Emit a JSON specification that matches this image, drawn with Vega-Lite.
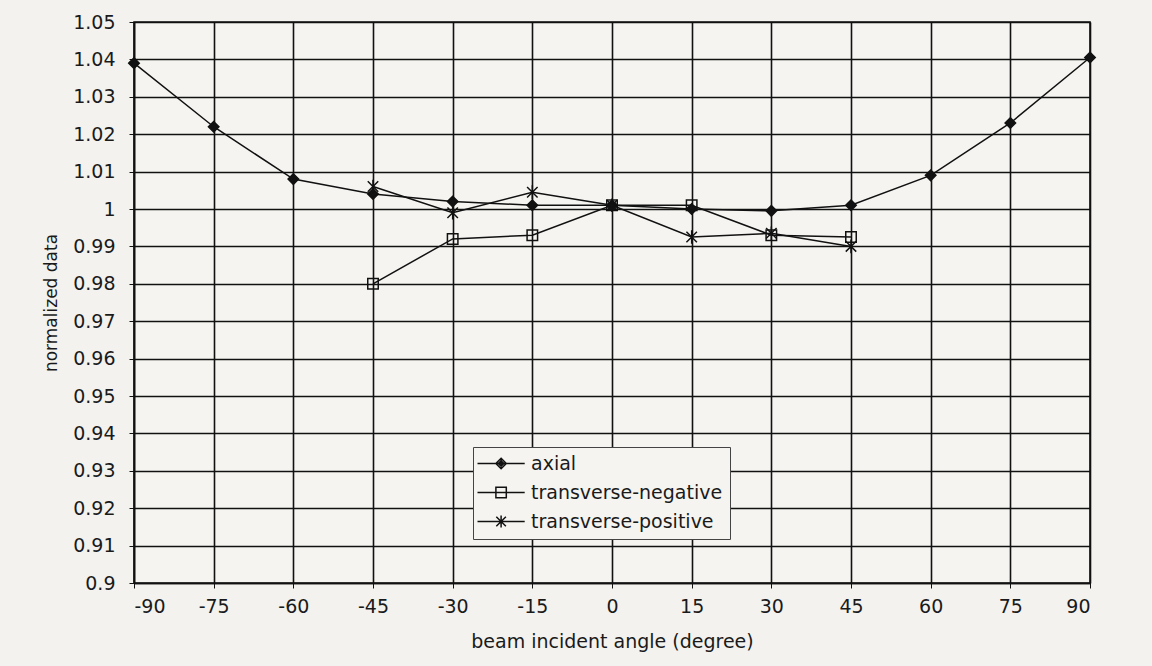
{
  "$schema": "https://vega.github.io/schema/vega-lite/v6.json",
  "width": 956,
  "height": 561,
  "autosize": "none",
  "padding": {"left": 134, "top": 22, "right": 62, "bottom": 83},
  "background": "#f3f2ef",
  "config": {
    "font": "DejaVu Sans",
    "view": {"stroke": "#111", "strokeWidth": 1.6, "fill": "#f5f4f1"},
    "axis": {
      "domainColor": "#111",
      "domainWidth": 1.6,
      "gridColor": "#111",
      "gridWidth": 1.6,
      "gridOpacity": 1,
      "tickColor": "#111",
      "tickSize": 5,
      "labelFont": "DejaVu Sans",
      "labelFontSize": 19,
      "labelColor": "#1a1a1a",
      "titleFont": "DejaVu Sans",
      "titleFontWeight": "normal",
      "titleColor": "#1a1a1a"
    }
  },
  "data": {
    "values": [
      {"angle": -90, "value": 1.039, "series": "axial"},
      {"angle": -75, "value": 1.022, "series": "axial"},
      {"angle": -60, "value": 1.008, "series": "axial"},
      {"angle": -45, "value": 1.004, "series": "axial"},
      {"angle": -30, "value": 1.002, "series": "axial"},
      {"angle": -15, "value": 1.001, "series": "axial"},
      {"angle": 0, "value": 1.001, "series": "axial"},
      {"angle": 15, "value": 1.0, "series": "axial"},
      {"angle": 30, "value": 0.9995, "series": "axial"},
      {"angle": 45, "value": 1.001, "series": "axial"},
      {"angle": 60, "value": 1.009, "series": "axial"},
      {"angle": 75, "value": 1.023, "series": "axial"},
      {"angle": 90, "value": 1.0405, "series": "axial"},
      {"angle": -45, "value": 0.98, "series": "transverse-negative"},
      {"angle": -30, "value": 0.992, "series": "transverse-negative"},
      {"angle": -15, "value": 0.993, "series": "transverse-negative"},
      {"angle": 0, "value": 1.001, "series": "transverse-negative"},
      {"angle": 15, "value": 1.001, "series": "transverse-negative"},
      {"angle": 30, "value": 0.993, "series": "transverse-negative"},
      {"angle": 45, "value": 0.9925, "series": "transverse-negative"},
      {"angle": -45, "value": 1.006, "series": "transverse-positive"},
      {"angle": -30, "value": 0.999, "series": "transverse-positive"},
      {"angle": -15, "value": 1.0045, "series": "transverse-positive"},
      {"angle": 0, "value": 1.001, "series": "transverse-positive"},
      {"angle": 15, "value": 0.9925, "series": "transverse-positive"},
      {"angle": 30, "value": 0.9935, "series": "transverse-positive"},
      {"angle": 45, "value": 0.99, "series": "transverse-positive"}
    ]
  },
  "encoding": {
    "x": {
      "field": "angle",
      "type": "quantitative",
      "scale": {"domain": [-90, 90], "nice": false, "zero": false},
      "axis": {
        "values": [-90, -75, -60, -45, -30, -15, 0, 15, 30, 45, 60, 75, 90],
        "labelExpr": "'' + datum.value",
        "title": "beam incident angle (degree)",
        "titleFontSize": 19,
        "labelPadding": 9,
        "titlePadding": 16
      }
    },
    "y": {
      "field": "value",
      "type": "quantitative",
      "scale": {"domain": [0.9, 1.05], "nice": false, "zero": false},
      "axis": {
        "values": [0.9, 0.91, 0.92, 0.93, 0.94, 0.95, 0.96, 0.97, 0.98, 0.99, 1.0, 1.01, 1.02, 1.03, 1.04, 1.05],
        "labelExpr": "format(datum.value, '~g')",
        "title": "normalized data",
        "titleFontSize": 17,
        "labelPadding": 14,
        "titlePadding": 12
      }
    }
  },
  "layer": [
    {
      "mark": {"type": "line", "color": "#111", "strokeWidth": 1.5},
      "encoding": {"detail": {"field": "series"}}
    },
    {
      "mark": {"type": "point", "stroke": "#111", "strokeWidth": 1.5, "opacity": 1, "size": 110},
      "encoding": {
        "shape": {
          "field": "series",
          "type": "nominal",
          "scale": {
            "domain": ["axial", "transverse-negative", "transverse-positive"],
            "range": ["diamond", "square", "M-1,-1L1,1M-1,1L1,-1M0,-1.3V1.3"]
          },
          "legend": null
        },
        "fill": {
          "field": "series",
          "type": "nominal",
          "scale": {
            "domain": ["axial", "transverse-negative", "transverse-positive"],
            "range": ["#111", "transparent", "transparent"]
          },
          "legend": null
        }
      }
    },
    {
      "transform": [{"filter": "false"}],
      "mark": {"type": "point", "stroke": "#111", "strokeWidth": 1.5, "filled": false},
      "encoding": {
        "shape": {
          "field": "series",
          "type": "nominal",
          "scale": {
            "domain": ["axial", "transverse-negative", "transverse-positive"],
            "range": [
              "M-1.5,0H4.4M1.45,-0.65L2.1,0L1.45,0.65L0.8,0ZM1.45,-0.35L1.8,0L1.45,0.35L1.1,0ZM1.45,-0.6V0.6",
              "M-1.5,0H4.4M0.8,-0.65H2.1V0.65H0.8Z",
              "M-1.5,0H4.4M0.85,-0.6L2.05,0.6M0.85,0.6L2.05,-0.6M1.45,-0.75V0.75"
            ]
          },
          "legend": {
            "title": null,
            "orient": "none",
            "legendX": 339,
            "legendY": 425,
            "fillColor": "#f5f4f1",
            "strokeColor": "#444",
            "padding": 7,
            "symbolSize": 256,
            "symbolOpacity": 1,
            "symbolFillColor": "transparent",
            "symbolStrokeColor": "#111",
            "symbolStrokeWidth": 1.5,
            "labelFont": "DejaVu Sans",
            "labelFontSize": 19,
            "labelColor": "#1a1a1a",
            "labelLimit": 400,
            "labelOffset": 32,
            "rowPadding": 9
          }
        }
      }
    }
  ],
  "resolve": {"scale": {"shape": "independent"}, "legend": {"shape": "independent"}}
}
